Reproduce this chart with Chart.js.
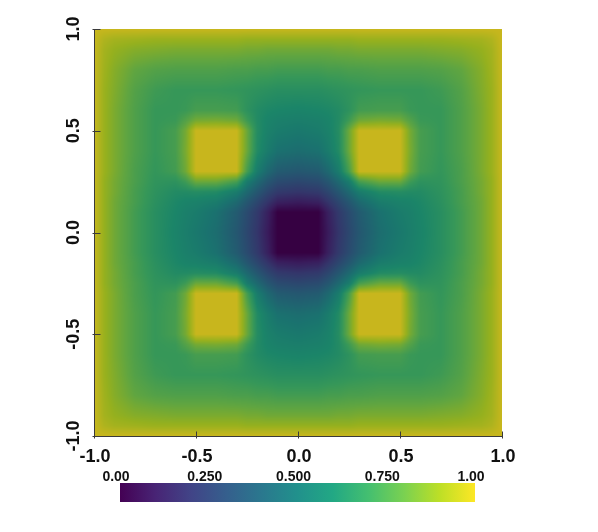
<!DOCTYPE html>
<html>
<head>
<meta charset="utf-8">
<script src="https://cdn.jsdelivr.net/npm/chart.js@4.4.1/dist/chart.umd.min.js"></script>
<style>
  html, body { margin: 0; padding: 0; background: #fff; }
  canvas { display: block; }
</style>
</head>
<body>
<canvas id="fieldChart" width="598" height="532"></canvas>
<script>
// sample nodes of the field (x left to right, y top to bottom), denser near the squares
const xNodes = [-1, -0.95, -0.9, -0.8, -0.7, -0.6, -0.55, -0.5, -0.4, -0.3, -0.25, -0.2, -0.15, -0.1, 0,
                0.1, 0.15, 0.2, 0.25, 0.3, 0.4, 0.5, 0.55, 0.6, 0.7, 0.8, 0.9, 0.95, 1];
const yNodes = [1, 0.95, 0.9, 0.8, 0.7, 0.6, 0.55, 0.5, 0.4, 0.3, 0.25, 0.2, 0.15, 0.1, 0,
                -0.1, -0.15, -0.2, -0.25, -0.3, -0.4, -0.5, -0.55, -0.6, -0.7, -0.8, -0.9, -0.95, -1];

// field values, one row per y node
const fieldRows = [
  [1,1,1,1,1,1,1,1,1,1,1,1,1,1,1,1,1,1,1,1,1,1,1,1,1,1,1,1,1],
  [1,.95,.93,.92,.91,.91,.91,.91,.91,.91,.90,.90,.90,.90,.90,.90,.90,.90,.90,.91,.91,.91,.91,.91,.91,.92,.93,.95,1],
  [1,.93,.90,.87,.86,.85,.85,.85,.85,.85,.84,.84,.83,.83,.83,.83,.83,.84,.84,.85,.85,.85,.85,.85,.86,.87,.90,.93,1],
  [1,.92,.87,.80,.77,.76,.76,.76,.76,.75,.75,.74,.74,.73,.73,.73,.74,.74,.75,.75,.76,.76,.76,.76,.77,.80,.87,.92,1],
  [1,.91,.86,.77,.72,.70,.70,.70,.70,.69,.68,.67,.66,.65,.65,.65,.66,.67,.68,.69,.70,.70,.70,.70,.72,.77,.86,.91,1],
  [1,.91,.85,.76,.70,.70,.71,.74,.74,.73,.67,.63,.61,.60,.59,.60,.61,.63,.67,.73,.74,.74,.71,.70,.70,.76,.85,.91,1],
  [1,.91,.85,.76,.70,.71,.77,.84,.85,.83,.72,.63,.59,.57,.56,.57,.59,.63,.72,.83,.85,.84,.77,.71,.70,.76,.85,.91,1],
  [1,.91,.85,.76,.70,.74,.84,1,1,1,.82,.64,.58,.55,.53,.55,.58,.64,.82,1,1,1,.84,.74,.70,.76,.85,.91,1],
  [1,.91,.85,.76,.70,.74,.85,1,1,1,.82,.63,.55,.49,.47,.49,.55,.63,.82,1,1,1,.85,.74,.70,.76,.85,.91,1],
  [1,.91,.85,.75,.69,.73,.83,1,1,1,.74,.55,.45,.38,.36,.38,.45,.55,.74,1,1,1,.83,.73,.69,.75,.85,.91,1],
  [1,.90,.84,.75,.68,.67,.72,.82,.82,.74,.55,.45,.36,.30,.28,.30,.36,.45,.55,.74,.82,.82,.72,.67,.68,.75,.84,.90,1],
  [1,.90,.84,.74,.67,.63,.63,.64,.63,.55,.45,.36,.28,.22,.20,.22,.28,.36,.45,.55,.63,.64,.63,.63,.67,.74,.84,.90,1],
  [1,.90,.83,.74,.66,.61,.59,.58,.55,.45,.36,.28,.20,.12,.10,.12,.20,.28,.36,.45,.55,.58,.59,.61,.66,.74,.83,.90,1],
  [1,.90,.83,.73,.65,.60,.57,.55,.49,.38,.30,.22,.12,0,0,0,.12,.22,.30,.38,.49,.55,.57,.60,.65,.73,.83,.90,1],
  [1,.90,.83,.73,.65,.59,.56,.53,.47,.36,.28,.20,.10,0,0,0,.10,.20,.28,.36,.47,.53,.56,.59,.65,.73,.83,.90,1],
  [1,.90,.83,.73,.65,.60,.57,.55,.49,.38,.30,.22,.12,0,0,0,.12,.22,.30,.38,.49,.55,.57,.60,.65,.73,.83,.90,1],
  [1,.90,.83,.74,.66,.61,.59,.58,.55,.45,.36,.28,.20,.12,.10,.12,.20,.28,.36,.45,.55,.58,.59,.61,.66,.74,.83,.90,1],
  [1,.90,.84,.74,.67,.63,.63,.64,.63,.55,.45,.36,.28,.22,.20,.22,.28,.36,.45,.55,.63,.64,.63,.63,.67,.74,.84,.90,1],
  [1,.90,.84,.75,.68,.67,.72,.82,.82,.74,.55,.45,.36,.30,.28,.30,.36,.45,.55,.74,.82,.82,.72,.67,.68,.75,.84,.90,1],
  [1,.91,.85,.75,.69,.73,.83,1,1,1,.74,.55,.45,.38,.36,.38,.45,.55,.74,1,1,1,.83,.73,.69,.75,.85,.91,1],
  [1,.91,.85,.76,.70,.74,.85,1,1,1,.82,.63,.55,.49,.47,.49,.55,.63,.82,1,1,1,.85,.74,.70,.76,.85,.91,1],
  [1,.91,.85,.76,.70,.74,.84,1,1,1,.82,.64,.58,.55,.53,.55,.58,.64,.82,1,1,1,.84,.74,.70,.76,.85,.91,1],
  [1,.91,.85,.76,.70,.71,.77,.84,.85,.83,.72,.63,.59,.57,.56,.57,.59,.63,.72,.83,.85,.84,.77,.71,.70,.76,.85,.91,1],
  [1,.91,.85,.76,.70,.70,.71,.74,.74,.73,.67,.63,.61,.60,.59,.60,.61,.63,.67,.73,.74,.74,.71,.70,.70,.76,.85,.91,1],
  [1,.91,.86,.77,.72,.70,.70,.70,.70,.69,.68,.67,.66,.65,.65,.65,.66,.67,.68,.69,.70,.70,.70,.70,.72,.77,.86,.91,1],
  [1,.92,.87,.80,.77,.76,.76,.76,.76,.75,.75,.74,.74,.73,.73,.73,.74,.74,.75,.75,.76,.76,.76,.76,.77,.80,.87,.92,1],
  [1,.93,.90,.87,.86,.85,.85,.85,.85,.85,.84,.84,.83,.83,.83,.83,.83,.84,.84,.85,.85,.85,.85,.85,.86,.87,.90,.93,1],
  [1,.95,.93,.92,.91,.91,.91,.91,.91,.91,.90,.90,.90,.90,.90,.90,.90,.90,.90,.91,.91,.91,.91,.91,.91,.92,.93,.95,1],
  [1,1,1,1,1,1,1,1,1,1,1,1,1,1,1,1,1,1,1,1,1,1,1,1,1,1,1,1,1]
];

const axisTicks = [-1, -0.5, 0, 0.5, 1];
const axisTickLabels = ['-1.0', '-0.5', '0.0', '0.5', '1.0'];

const colorbarTicks = [0, 0.25, 0.5, 0.75, 1];
const colorbarLabels = ['0.00', '0.250', '0.500', '0.750', '1.00'];

// viridis stops
const viridis = [
  [68, 1, 84], [72, 36, 117], [65, 68, 135], [53, 95, 141], [42, 120, 142], [33, 145, 140],
  [34, 168, 132], [68, 191, 112], [122, 209, 81], [189, 223, 38], [253, 231, 37]
];
const shade = 0.79; // plot surface is a bit darker than the colour bar

function viridisAt(t) {
  t = Math.min(1, Math.max(0, t));
  const p = t * (viridis.length - 1);
  const i = Math.min(viridis.length - 2, Math.floor(p));
  const f = p - i;
  const a = viridis[i], b = viridis[i + 1];
  return [a[0] + (b[0] - a[0]) * f, a[1] + (b[1] - a[1]) * f, a[2] + (b[2] - a[2]) * f];
}

// index of the node interval that holds v, and the fraction inside it
function locate(nodes, v) {
  let i = 0;
  while (i < nodes.length - 2) {
    const lo = Math.min(nodes[i], nodes[i + 1]), hi = Math.max(nodes[i], nodes[i + 1]);
    if (v >= lo && v <= hi) break;
    i++;
  }
  let f = (v - nodes[i]) / (nodes[i + 1] - nodes[i]);
  f = Math.min(1, Math.max(0, f));
  return [i, f];
}

const fieldPoints = [];
yNodes.forEach((yv, j) => xNodes.forEach((xv, i) => fieldPoints.push({ x: xv, y: yv, v: fieldRows[j][i] })));

const fieldPlugin = {
  id: 'fieldPlugin',
  beforeDatasetsDraw(chart) {
    const { ctx, chartArea: area, scales: { x, y } } = chart;
    const left = Math.round(area.left), top = Math.round(area.top);
    const w = Math.round(area.right) - left, h = Math.round(area.bottom) - top;
    const img = ctx.createImageData(w, h);
    const cols = [];
    for (let px = 0; px < w; px++) cols.push(locate(xNodes, x.getValueForPixel(left + px + 0.5)));
    for (let py = 0; py < h; py++) {
      const [j, fy] = locate(yNodes, y.getValueForPixel(top + py + 0.5));
      const r0 = fieldRows[j], r1 = fieldRows[j + 1];
      for (let px = 0; px < w; px++) {
        const [i, fx] = cols[px];
        const v = (1 - fx) * (1 - fy) * r0[i] + fx * (1 - fy) * r0[i + 1] + (1 - fx) * fy * r1[i] + fx * fy * r1[i + 1];
        const c = viridisAt(v);
        const k = (py * w + px) * 4;
        img.data[k] = c[0] * shade;
        img.data[k + 1] = c[1] * shade;
        img.data[k + 2] = c[2] * shade;
        img.data[k + 3] = 255;
      }
    }
    ctx.putImageData(img, left, top);
  },
  afterDraw(chart) {
    const { ctx, chartArea: area, scales: { x, y } } = chart;
    const x0 = Math.round(area.left) + 0.5;
    const yb = Math.round(area.bottom) + 0.5;
    ctx.save();
    // axes
    ctx.strokeStyle = '#3a3a3a';
    ctx.lineWidth = 1;
    ctx.beginPath();
    ctx.moveTo(x0, area.top);
    ctx.lineTo(x0, yb + 1);
    ctx.moveTo(x0, yb);
    ctx.lineTo(Math.round(area.right) + 0.5, yb);
    axisTicks.forEach(v => {
      const px = Math.round(x.getPixelForValue(v)) + 0.5;
      ctx.moveTo(px, yb - 5);
      ctx.lineTo(px, yb + 2);
      const py = Math.round(y.getPixelForValue(v)) + 0.5;
      ctx.moveTo(x0 - 2, py);
      ctx.lineTo(x0 + 6, py);
    });
    ctx.stroke();

    // tick labels
    ctx.fillStyle = '#111';
    ctx.font = 'bold 18px "Liberation Sans", Arial, sans-serif';
    ctx.textAlign = 'center';
    ctx.textBaseline = 'alphabetic';
    axisTicks.forEach((v, k) => {
      ctx.fillText(axisTickLabels[k], x.getPixelForValue(v) + 1, 462);
      ctx.save();
      ctx.translate(79, y.getPixelForValue(v));
      ctx.rotate(-Math.PI / 2);
      ctx.fillText(axisTickLabels[k], 0, 0);
      ctx.restore();
    });

    // colour bar
    const cb = { left: 120, right: 475, top: 483, bottom: 502 };
    const grad = ctx.createLinearGradient(cb.left, 0, cb.right, 0);
    viridis.forEach((c, k) => grad.addColorStop(k / (viridis.length - 1), `rgb(${c[0]},${c[1]},${c[2]})`));
    ctx.fillStyle = grad;
    ctx.fillRect(cb.left, cb.top, cb.right - cb.left, cb.bottom - cb.top);
    ctx.fillStyle = '#111';
    ctx.font = 'bold 14px "Liberation Sans", Arial, sans-serif';
    colorbarTicks.forEach((t, k) => {
      ctx.fillText(colorbarLabels[k], cb.left + t * (cb.right - cb.left) - 4, 481);
    });
    ctx.restore();
  }
};

new Chart(document.getElementById('fieldChart'), {
  type: 'scatter',
  data: {
    datasets: [{
      label: 'field',
      data: fieldPoints,
      pointRadius: 0,
      pointHoverRadius: 0
    }]
  },
  options: {
    responsive: false,
    animation: false,
    devicePixelRatio: 1,
    layout: { padding: { left: 94, right: 96, top: 29, bottom: 96 } },
    scales: {
      x: { type: 'linear', min: -1, max: 1, display: false },
      y: { type: 'linear', min: -1, max: 1, display: false }
    },
    plugins: {
      legend: { display: false },
      tooltip: { enabled: false }
    }
  },
  plugins: [fieldPlugin]
});
</script>
</body>
</html>
